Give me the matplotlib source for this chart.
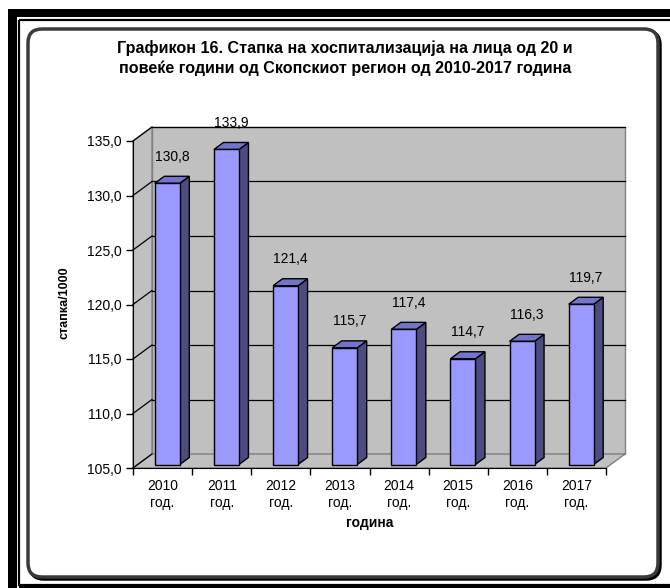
import numpy as np
import matplotlib
matplotlib.use("Agg")
import matplotlib.pyplot as plt
from matplotlib.patches import Rectangle, Polygon, FancyBboxPatch
from matplotlib.transforms import Affine2D
from matplotlib.ticker import FixedLocator, FuncFormatter

plt.rcParams['font.family'] = ['Liberation Sans', 'DejaVu Sans']

# data
years = ["2010", "2011", "2012", "2013", "2014", "2015", "2016", "2017"]
rates = [130.8, 133.9, 121.4, 115.7, 117.4, 114.7, 116.3, 119.7]
y_ticks = [105, 110, 115, 120, 125, 130, 135]

title = ("Графикон 16. Стапка на хоспитализација на лица од 20 и\n"
         "повеќе години од Скопскиот регион од 2010-2017 година")

W, H = 670, 588
fig = plt.figure(figsize=(W / 100, H / 100), dpi=100)
fig.patch.set_facecolor("white")

# pixel coords (top-left origin) -> figure
px = Affine2D().scale(1 / W, -1 / H).translate(0, 1) + fig.transFigure

# frame
fig.add_artist(Rectangle((8, 9), 700, 8, facecolor="black", edgecolor="none", transform=px, zorder=-3))
fig.add_artist(Rectangle((8, 9), 9, 600, facecolor="black", edgecolor="none", transform=px, zorder=-3))
fig.add_artist(Rectangle((19, 20), 700, 565, facecolor="none", edgecolor="black", lw=1.6,
                         transform=px, zorder=-3))
fig.add_artist(Rectangle((19, 584), 700, 6, facecolor="black", edgecolor="none", transform=px, zorder=-3))
fig.add_artist(FancyBboxPatch((30, 31), 630, 548, boxstyle="round,pad=0,rounding_size=14",
                              facecolor="none", edgecolor="black", lw=2.5, transform=px, zorder=-2))
fig.add_artist(FancyBboxPatch((28, 29), 630, 548, boxstyle="round,pad=0,rounding_size=14",
                              facecolor="white", edgecolor="#3a3a3a", lw=2.5, transform=px, zorder=-1))

# front plane of the 3D plot
x0, x1, y0, y1 = 133, 606, 468, 141
ax = fig.add_axes([x0 / W, 1 - y0 / H, (x1 - x0) / W, (y0 - y1) / H])
n = len(years)
ymin, ymax = y_ticks[0], y_ticks[-1]
ax.set_xlim(0, n)
ax.set_ylim(ymin, ymax)
ax.patch.set_visible(False)

dx = 19 / ((x1 - x0) / n)
dy = 14 / ((y0 - y1) / (ymax - ymin))

wall = "#c0c0c0"
wall_edge = "#808080"
# back wall, side wall, floor
ax.add_patch(Rectangle((dx, ymin + dy), n, ymax - ymin, facecolor=wall, edgecolor=wall_edge,
                       lw=1, clip_on=False, zorder=0))
ax.add_patch(Polygon([(0, ymin), (0, ymax), (dx, ymax + dy), (dx, ymin + dy)], closed=True,
                     facecolor=wall, edgecolor=wall_edge, lw=1, clip_on=False, zorder=0))
ax.add_patch(Polygon([(0, ymin), (n, ymin), (n + dx, ymin + dy), (dx, ymin + dy)], closed=True,
                     facecolor=wall, edgecolor=wall_edge, lw=1, clip_on=False, zorder=0))

# gridlines
for t in y_ticks[1:]:
    ax.plot([dx, n + dx], [t + dy, t + dy], color="black", lw=0.9, clip_on=False, zorder=1)
    ax.plot([0, dx], [t, t + dy], color="black", lw=0.9, clip_on=False, zorder=1)
ax.plot([0, dx], [ymin, ymin + dy], color="black", lw=0.9, clip_on=False, zorder=1)

# bars
bw = 25 / ((x1 - x0) / n)
f, b = 0.25, 0.75
front_c, side_c, top_c = "#9999ff", "#4c4c80", "#7474c8"
for i, v in enumerate(rates):
    xl = i + 0.5 - bw / 2
    xr = xl + bw
    ax.add_patch(Polygon([(xr + f * dx, ymin + f * dy), (xr + f * dx, v + f * dy),
                          (xr + b * dx, v + b * dy), (xr + b * dx, ymin + b * dy)], closed=True,
                         facecolor=side_c, edgecolor="black", lw=1, clip_on=False, zorder=3))
    ax.add_patch(Polygon([(xl + f * dx, v + f * dy), (xr + f * dx, v + f * dy),
                          (xr + b * dx, v + b * dy), (xl + b * dx, v + b * dy)], closed=True,
                         facecolor=top_c, edgecolor="black", lw=1, clip_on=False, zorder=3))
    ax.add_patch(Rectangle((xl + f * dx, ymin + f * dy), bw, v - ymin, facecolor=front_c,
                           edgecolor="black", lw=1, clip_on=False, zorder=4))
    ax.text(i + 0.5 + 0.5 * dx, v + 0.5 * dy + 2.1, f"{v:.1f}".replace(".", ","),
            ha="center", va="center", fontsize=10, zorder=5)

# axes
for s in ["top", "right"]:
    ax.spines[s].set_visible(False)
ax.spines["left"].set_zorder(2)
ax.spines["bottom"].set_zorder(2)
ax.yaxis.set_major_locator(FixedLocator(y_ticks))
ax.yaxis.set_major_formatter(FuncFormatter(lambda v, p: f"{v:.1f}".replace(".", ",")))
ax.tick_params(axis="y", direction="out", length=5, width=1, pad=3, labelsize=10)
ax.set_xticks(np.arange(n + 1))
ax.set_xticklabels([])
ax.set_xticks(np.arange(n) + 0.5, minor=True)
ax.set_xticklabels([f"{y}\nгод." for y in years], minor=True, fontsize=10, linespacing=1.25)
ax.tick_params(axis="x", which="major", direction="out", length=5, width=1)
ax.tick_params(axis="x", which="minor", length=0, pad=8)

fig.text(65 / W, 1 - 303 / H, "стапка/1000", rotation=90, ha="center", va="center",
         fontsize=9, fontweight="bold")
fig.text(370 / W, 1 - 523 / H, "година", ha="center", va="center", fontsize=10, fontweight="bold")
fig.text(345 / W, 1 - 58 / H, title, ha="center", va="center", fontsize=11.6,
         fontweight="bold", linespacing=1.3)

fig.savefig("out.png", dpi=100)
